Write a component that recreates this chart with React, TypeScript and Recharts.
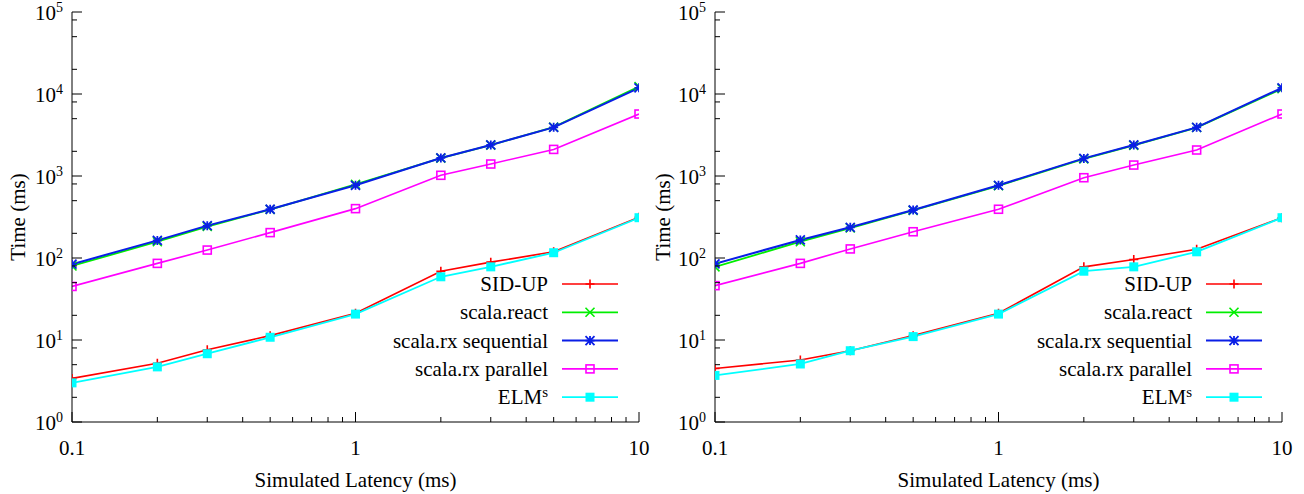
import React from "react";
import { LineChart, Line, XAxis, YAxis, Legend } from "recharts";

const LATENCY = [0.1, 0.2, 0.3, 0.5, 1, 2, 3, 5, 10];

// left panel (ms)
const LEFT_SIDUP = [3.4, 5.2, 7.6, 11.3, 21.2, 69, 89, 119, 313];
const LEFT_REACT = [80, 158, 242, 390, 790, 1650, 2380, 3950, 12300];
const LEFT_RX_SEQ = [84, 164, 248, 393, 770, 1660, 2390, 3920, 11900];
const LEFT_RX_PAR = [45, 86, 125, 204, 400, 1020, 1400, 2110, 5700];
const LEFT_ELM = [3.0, 4.7, 6.8, 10.8, 20.7, 59, 78, 116, 310];

// right panel (ms)
const RIGHT_SIDUP = [4.5, 5.7, 7.4, 11.3, 21.2, 78, 96, 128, 310];
const RIGHT_REACT = [78, 158, 232, 380, 760, 1620, 2360, 3900, 11600];
const RIGHT_RX_SEQ = [85, 166, 237, 385, 770, 1640, 2390, 3920, 11900];
const RIGHT_RX_PAR = [46, 86, 129, 209, 393, 953, 1360, 2075, 5700];
const RIGHT_ELM = [3.7, 5.1, 7.4, 11.0, 20.7, 69, 78, 119, 310];

const X_MAJOR = [0.1, 1, 10];
const X_TICKS = [0.1, 0.2, 0.3, 0.4, 0.5, 0.6, 0.7, 0.8, 0.9, 1, 2, 3, 4, 5, 6, 7, 8, 9, 10];
const Y_MAJOR = [1, 10, 100, 1000, 10000, 100000];
const Y_EXP = ["0", "1", "2", "3", "4", "5"];
const Y_TICKS = [
  1, 2, 5, 8, 10, 20, 50, 80, 100, 200, 500, 800, 1000, 2000, 5000, 8000,
  10000, 20000, 50000, 80000, 100000,
];

const FONT = "Liberation Serif, Times New Roman, serif";

type Shape = "plus" | "cross" | "star" | "square" | "fsquare";

const SERIES: { key: string; name: string; color: string; shape: Shape; width: number }[] = [
  { key: "sidup", name: "SID-UP", color: "#ff0000", shape: "plus", width: 1.6 },
  { key: "react", name: "scala.react", color: "#00ee00", shape: "cross", width: 1.8 },
  { key: "rxseq", name: "scala.rx sequential", color: "#0a1ee6", shape: "star", width: 2 },
  { key: "rxpar", name: "scala.rx parallel", color: "#ff00ff", shape: "square", width: 1.6 },
  { key: "elm", name: "ELM", color: "#00ffff", shape: "fsquare", width: 1.8 },
];

const buildRows = (sidup: number[], react: number[], rxseq: number[], rxpar: number[], elm: number[]) =>
  LATENCY.map((x, i) => ({ x, sidup: sidup[i], react: react[i], rxseq: rxseq[i], rxpar: rxpar[i], elm: elm[i] }));

const LEFT_DATA = buildRows(LEFT_SIDUP, LEFT_REACT, LEFT_RX_SEQ, LEFT_RX_PAR, LEFT_ELM);
const RIGHT_DATA = buildRows(RIGHT_SIDUP, RIGHT_REACT, RIGHT_RX_SEQ, RIGHT_RX_PAR, RIGHT_ELM);

const txt = { fontFamily: FONT, fontSize: 21, fill: "#000" };

const Marker = ({ shape, cx, cy, color }: { shape: Shape; cx: number; cy: number; color: string }) => {
  const s = 4.5;
  if (shape === "plus")
    return <path d={`M${cx - s},${cy}H${cx + s}M${cx},${cy - s}V${cy + s}`} stroke={color} strokeWidth={1.6} fill="none" />;
  if (shape === "cross")
    return (
      <path d={`M${cx - s},${cy - s}L${cx + s},${cy + s}M${cx - s},${cy + s}L${cx + s},${cy - s}`} stroke={color} strokeWidth={1.6} fill="none" />
    );
  if (shape === "star")
    return (
      <path
        d={`M${cx - s},${cy}H${cx + s}M${cx},${cy - s}V${cy + s}M${cx - s},${cy - s}L${cx + s},${cy + s}M${cx - s},${cy + s}L${cx + s},${cy - s}`}
        stroke={color}
        strokeWidth={1.8}
        fill="none"
      />
    );
  if (shape === "square")
    return <rect x={cx - 4} y={cy - 4} width={8} height={8} stroke={color} strokeWidth={1.6} fill="none" />;
  return <rect x={cx - 4.5} y={cy - 4.5} width={9} height={9} fill={color} />;
};

const XTick = (props: any) => {
  const { x, y, payload, top } = props;
  const v = payload.value;
  const major = X_MAJOR.includes(v);
  const len = major ? 10 : 5;
  return (
    <g>
      <line x1={x} x2={x} y1={y} y2={top ? y + len : y - len} stroke="#000" strokeWidth={1} />
      {major && !top && (
        <text x={x} y={y + 33} textAnchor="middle" style={txt}>
          {v}
        </text>
      )}
    </g>
  );
};

const YTick = (props: any) => {
  const { x, y, payload, right } = props;
  const idx = Y_MAJOR.indexOf(payload.value);
  const len = idx >= 0 ? 10 : 5;
  return (
    <g>
      <line x1={x} x2={right ? x - len : x + len} y1={y} y2={y} stroke="#000" strokeWidth={1} />
      {idx >= 0 && !right && (
        <text x={x - 9} y={y + 8} textAnchor="end" style={txt}>
          10
          <tspan style={{ fontSize: 14 }} dy={-8}>
            {Y_EXP[idx]}
          </tspan>
        </text>
      )}
    </g>
  );
};

const XTitle = (props: any) => {
  const vb = props.viewBox;
  return (
    <text x={vb.x + vb.width / 2} y={vb.y + 65} textAnchor="middle" style={txt}>
      Simulated Latency (ms)
    </text>
  );
};

const YTitle = (props: any) => {
  const vb = props.viewBox;
  const cx = vb.x + vb.width - props.gap;
  const cy = vb.y + vb.height / 2;
  return (
    <text transform={`translate(${cx},${cy}) rotate(-90)`} textAnchor="middle" dy={7} style={txt}>
      Time (ms)
    </text>
  );
};

const LegendBox = () => (
  <svg width={280} height={150} style={{ overflow: "visible" }}>
    {SERIES.map((s, i) => {
      const y = 16 + i * 28.3;
      return (
        <g key={s.key}>
          <text x={188} y={y + 7} textAnchor="end" style={txt}>
            {s.name}
            {s.key === "elm" && (
              <tspan style={{ fontSize: 15 }} dy={-7}>
                s
              </tspan>
            )}
          </text>
          <line x1={202} x2={258} y1={y} y2={y} stroke={s.color} strokeWidth={s.width} />
          <Marker shape={s.shape} cx={230} cy={y} color={s.color} />
        </g>
      );
    })}
  </svg>
);

type PanelProps = { data: any[]; width: number; yWidth: number; right: number; legendLeft: number; titleGap: number };

const Panel = ({ data, width, yWidth, right, legendLeft, titleGap }: PanelProps) => (
  <LineChart width={width} height={494} data={data} margin={{ top: 12, right, bottom: 0, left: 0 }}>
    <XAxis
      dataKey="x"
      type="number"
      scale="log"
      domain={[0.1, 10]}
      allowDataOverflow
      ticks={X_TICKS}
      interval={0}
      height={72}
      tickSize={0}
      tickMargin={0}
      tickLine={false}
      axisLine={{ stroke: "#000", strokeWidth: 1 }}
      tick={<XTick />}
      label={<XTitle />}
    />
    <XAxis
      xAxisId="top"
      orientation="top"
      dataKey="x"
      type="number"
      scale="log"
      domain={[0.1, 10]}
      allowDataOverflow
      ticks={X_TICKS}
      interval={0}
      height={0}
      tickSize={0}
      tickMargin={0}
      tickLine={false}
      axisLine={{ stroke: "#000", strokeWidth: 1 }}
      tick={<XTick top />}
    />
    <YAxis
      type="number"
      scale="log"
      domain={[1, 100000]}
      allowDataOverflow
      ticks={Y_TICKS}
      interval={0}
      width={yWidth}
      tickSize={0}
      tickMargin={0}
      tickLine={false}
      axisLine={{ stroke: "#000", strokeWidth: 1 }}
      tick={<YTick />}
      label={<YTitle gap={titleGap} />}
    />
    <YAxis
      yAxisId="right"
      orientation="right"
      type="number"
      scale="log"
      domain={[1, 100000]}
      allowDataOverflow
      ticks={Y_TICKS}
      interval={0}
      width={0}
      tickSize={0}
      tickMargin={0}
      tickLine={false}
      axisLine={{ stroke: "#000", strokeWidth: 1 }}
      tick={<YTick right />}
    />
    {SERIES.map((s) => (
      <Line
        key={s.key}
        type="linear"
        dataKey={s.key}
        name={s.name}
        stroke={s.color}
        strokeWidth={s.width}
        isAnimationActive={false}
        dot={(p: any) => <Marker key={`${s.key}-${p.index}`} shape={s.shape} cx={p.cx} cy={p.cy} color={s.color} />}
        activeDot={false}
      />
    ))}
    <Legend
      layout="vertical"
      align="center"
      verticalAlign="middle"
      content={() => <LegendBox />}
      wrapperStyle={{ left: legendLeft, top: 268, width: 280, height: 150 }}
    />
  </LineChart>
);

export default function App() {
  return (
    <div
      style={{
        position: "absolute",
        left: 0,
        top: 0,
        width: 1304,
        height: 494,
        background: "#fff",
        fontFamily: FONT,
      }}
    >
      <div style={{ position: "absolute", left: 0, top: 0 }}>
        <Panel data={LEFT_DATA} width={652} yWidth={72} right={13} legendLeft={360} titleGap={54} />
      </div>
      <div style={{ position: "absolute", left: 640, top: 0 }}>
        <Panel data={RIGHT_DATA} width={664} yWidth={75} right={22} legendLeft={364} titleGap={52} />
      </div>
    </div>
  );
}
